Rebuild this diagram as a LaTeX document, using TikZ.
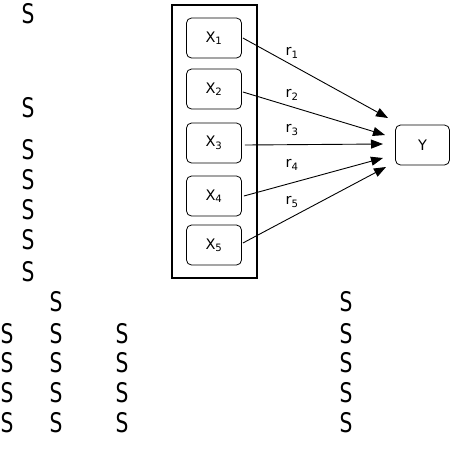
\documentclass[tikz,border=0pt]{standalone}
\usepackage{fontspec}
\setmainfont{DejaVu Sans}
\usetikzlibrary{arrows.meta}

\begin{document}
\begin{tikzpicture}[x=1pt,y=-1pt,
   every node/.style={font=\fontsize{14.5}{16}\selectfont},
   varbox/.style={draw,rounded corners=5pt,line width=0.8pt,minimum width=55pt,minimum height=40pt,inner sep=0pt},
   frame/.style={draw,line width=1.2pt,minimum width=85pt,minimum height=273pt,inner sep=0pt},
   corr/.style={-{Triangle[length=12pt,width=9pt]},line width=0.9pt},
   glyph/.style={font=\fontsize{27}{27}\selectfont\addfontfeature{FakeStretch=0.75}}]
\useasboundingbox (0,0) rectangle (466,451);
% left frame with the predictors
\node[frame] (group) at (214.5,141.5) {};
\node[varbox] (x1) at (214,38) {X\textsubscript{1}};
\node[varbox] (x2) at (214,89) {X\textsubscript{2}};
\node[varbox] (x3) at (214,143) {X\textsubscript{3}};
\node[varbox] (x4) at (214,196) {X\textsubscript{4}};
\node[varbox] (x5) at (214,245) {X\textsubscript{5}};
% criterion
\node[varbox,minimum width=54pt] (y) at (422.5,145) {Y};
\coordinate (t1) at (388,118);
\coordinate (t2) at (385,135);
\coordinate (t3) at (383,144);
\coordinate (t4) at (383,158);
\coordinate (t5) at (386,167);
\draw[corr] ([xshift=1pt]x1.east) -- (t1);
\draw[corr] ([xshift=1pt,yshift=-3pt]x2.east) -- (t2);
\draw[corr] ([xshift=3pt,yshift=-2pt]x3.east) -- (t3);
\draw[corr] ([xshift=2pt]x4.east) -- (t4);
\draw[corr] ([xshift=1pt,yshift=2pt]x5.east) -- (t5);
\node (r1) at (292,53) {r\textsubscript{1}};
\node (r2) at (292,95) {r\textsubscript{2}};
\node (r3) at (292,130) {r\textsubscript{3}};
\node (r4) at (292,165) {r\textsubscript{4}};
\node (r5) at (292,202) {r\textsubscript{5}};
% stray glyphs on the left and below
\node[glyph] (s1) at (28,14) {S};
\node[glyph] (s2) at (28,108) {S};
\node[glyph] (s3) at (28,150) {S};
\node[glyph] (s4) at (28,180) {S};
\node[glyph] (s5) at (28,210) {S};
\node[glyph] (s6) at (28,240) {S};
\node[glyph] (s7) at (28,272) {S};
\node[glyph] (a1) at (56,302) {S};
\node[glyph] (b1) at (346,302) {S};
\node[glyph] (c2) at (7,334) {S};
\node[glyph] (a2) at (56,334) {S};
\node[glyph] (d2) at (122,334) {S};
\node[glyph] (b2) at (346,334) {S};
\node[glyph] (c3) at (7,363) {S};
\node[glyph] (a3) at (56,363) {S};
\node[glyph] (d3) at (122,363) {S};
\node[glyph] (b3) at (346,363) {S};
\node[glyph] (c4) at (7,393) {S};
\node[glyph] (a4) at (56,393) {S};
\node[glyph] (d4) at (122,393) {S};
\node[glyph] (b4) at (346,393) {S};
\node[glyph] (c5) at (7,423) {S};
\node[glyph] (a5) at (56,423) {S};
\node[glyph] (d5) at (122,423) {S};
\node[glyph] (b5) at (346,423) {S};
\end{tikzpicture}
\end{document}
